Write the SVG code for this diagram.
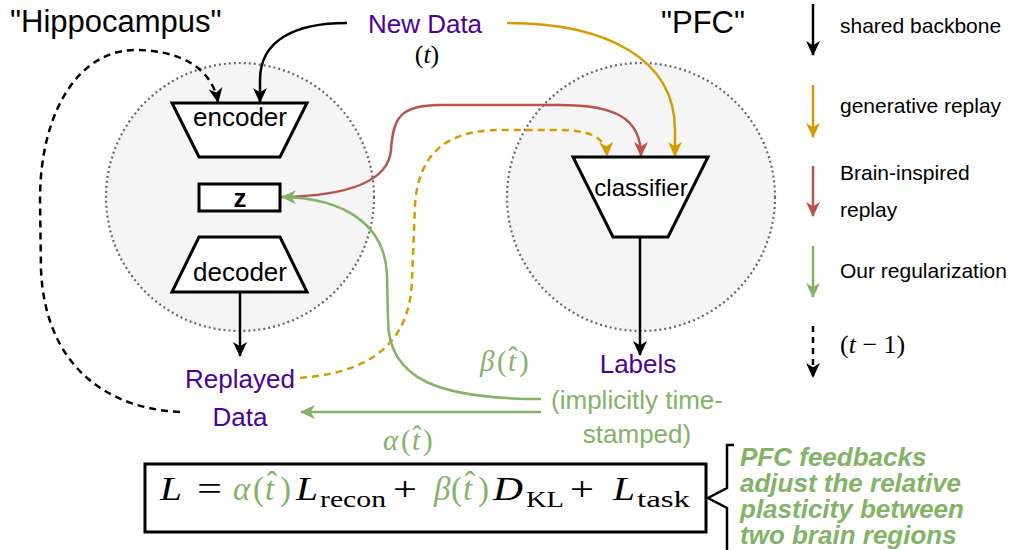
<svg xmlns="http://www.w3.org/2000/svg" width="1011" height="550" viewBox="0 0 1011 550">
<defs>
<style>
.s{font-family:"Liberation Sans",Arial,Helvetica,sans-serif;}
.m{font-family:"Liberation Serif","Times New Roman","DejaVu Serif",serif;}
.i{font-style:italic;}
.pur{fill:#4C0099;}
.grn{fill:#82b366;}
.lbl{font-size:26px;}
.leg{font-size:21px;fill:#000;}
.shape{fill:#fff;stroke:#000;stroke-width:3;}
.region{fill:#f5f5f5;stroke:#666;stroke-width:2.2;stroke-dasharray:2 3;}
.c{fill:none;stroke-width:2.5;}
.k{stroke:#000;}
.o{stroke:#d79b00;}
.r{stroke:#b85450;}
.gr{stroke:#82b366;}
.d{stroke-dasharray:7 5;}
.eq{font-size:33px;}
.sub{font-size:24px;}
</style>
<marker id="ak" viewBox="0 0 14 13" refX="13" refY="6.5" markerWidth="15" markerHeight="14" markerUnits="userSpaceOnUse" orient="auto"><path d="M0,0 L14,6.5 L0,13 L4,6.5 Z" fill="#000"/></marker>
<marker id="ao" viewBox="0 0 14 13" refX="13" refY="6.5" markerWidth="15" markerHeight="14" markerUnits="userSpaceOnUse" orient="auto"><path d="M0,0 L14,6.5 L0,13 L4,6.5 Z" fill="#d79b00"/></marker>
<marker id="ar" viewBox="0 0 14 13" refX="13" refY="6.5" markerWidth="15" markerHeight="14" markerUnits="userSpaceOnUse" orient="auto"><path d="M0,0 L14,6.5 L0,13 L4,6.5 Z" fill="#b85450"/></marker>
<marker id="ag" viewBox="0 0 14 13" refX="13" refY="6.5" markerWidth="15" markerHeight="14" markerUnits="userSpaceOnUse" orient="auto"><path d="M0,0 L14,6.5 L0,13 L4,6.5 Z" fill="#82b366"/></marker>
</defs>
<rect width="1011" height="550" fill="#fff"/>

<g id="hippocampus-region">
<circle class="region" cx="240" cy="197" r="134"/>
<text class="s" x="10" y="32" font-size="31">"Hippocampus"</text>
</g>
<g id="pfc-region">
<circle class="region" cx="641" cy="197" r="134"/>
<text class="s" x="703" y="33" font-size="31" text-anchor="middle">"PFC"</text>
</g>

<g id="connectors">
<path class="c k d" d="M180,412 C100,408 45,360 41,270 L40,200 C40,110 80,50 135,50 C180,50 212,68 218,102" marker-end="url(#ak)"/>
<path class="c k" d="M347,23 C295,23 260,40 260,80 L260,102" marker-end="url(#ak)"/>
<path class="c r" d="M281,197 C340,196 388,185 391,150 C393,118 400,105 440,105 L560,105 C615,105 641,118 641,156" marker-end="url(#ar)"/>
<path class="c o d" d="M300,378 C375,372 410,340 412,280 L415,205 C418,160 440,130 500,130 L560,130 C590,130 606,138 607,156" marker-end="url(#ao)"/>
<path class="c o" d="M507,23 C605,23 675,58 675,130 L675,156" marker-end="url(#ao)"/>
<path class="c gr" d="M541,399 C440,399 388,380 388,320 L387,275 C385,225 345,198 282,197" marker-end="url(#ag)"/>
<path class="c gr" d="M541,412 L301,412" marker-end="url(#ag)"/>
<path class="c k" d="M240,292 L240,356" marker-end="url(#ak)"/>
<path class="c k" d="M640,237 L640,355" marker-end="url(#ak)"/>
</g>

<g id="encoder">
<polygon class="shape" points="172,103 307,103 280,157 199,157"/>
<text class="s lbl" x="240" y="126" text-anchor="middle">encoder</text>
</g>
<g id="z">
<rect class="shape" x="199" y="184" width="81" height="27"/>
<text class="s" x="240" y="207" font-size="26" font-weight="bold" text-anchor="middle">z</text>
</g>
<g id="decoder">
<polygon class="shape" points="199,237 280,237 307,292 172,292"/>
<text class="s lbl" x="240" y="281" text-anchor="middle">decoder</text>
</g>
<g id="classifier">
<polygon class="shape" points="573,157 708,157 668,237 613,237"/>
<text class="s" x="641" y="196" font-size="24" text-anchor="middle">classifier</text>
</g>

<g id="new-data">
<text class="s lbl pur" x="425" y="33" text-anchor="middle">New Data</text>
<text class="m" x="427" y="63" font-size="26" text-anchor="middle">(<tspan class="i">t</tspan>)</text>
</g>
<g id="replayed-data">
<text class="s lbl pur" x="240" y="388" text-anchor="middle">Replayed</text>
<text class="s lbl pur" x="240" y="426" text-anchor="middle">Data</text>
</g>
<g id="labels">
<text class="s lbl pur" x="638" y="373" text-anchor="middle">Labels</text>
<text class="s lbl grn" x="637" y="409" text-anchor="middle">(implicitly time-</text>
<text class="s lbl grn" x="637" y="443" text-anchor="middle">stamped)</text>
</g>

<g id="beta-label" class="m grn" font-size="29">
<text class="i" x="480" y="371">β</text>
<text x="497" y="371">(</text>
<text class="i" x="508" y="371">t</text>
<text x="513" y="367" text-anchor="middle">ˆ</text>
<text x="519" y="371">)</text>
</g>
<g id="alpha-label" class="m grn" font-size="29">
<text class="i" x="383" y="450">α</text>
<text x="401" y="450">(</text>
<text class="i" x="412" y="450">t</text>
<text x="417" y="446" text-anchor="middle">ˆ</text>
<text x="423" y="450">)</text>
</g>

<g id="equation">
<rect class="shape" x="145" y="464" width="561" height="68"/>
<text class="m eq i" x="160" y="500" textLength="22" lengthAdjust="spacingAndGlyphs">L</text>
<text class="m eq" x="197" y="500" textLength="25" lengthAdjust="spacingAndGlyphs">=</text>
<text class="m eq i grn" x="233" y="500">α</text>
<text class="m eq grn" x="253" y="500">(</text>
<text class="m eq i grn" x="265" y="500">t</text>
<text class="m eq grn" x="272" y="495" text-anchor="middle">ˆ</text>
<text class="m eq grn" x="280" y="500">)</text>
<text class="m eq i" x="296" y="500" textLength="22" lengthAdjust="spacingAndGlyphs">L</text>
<text class="m sub" x="320" y="507" textLength="66" lengthAdjust="spacingAndGlyphs">recon</text>
<text class="m eq" x="393" y="500" textLength="24" lengthAdjust="spacingAndGlyphs">+</text>
<text class="m eq i grn" x="434" y="500">β</text>
<text class="m eq grn" x="451" y="500">(</text>
<text class="m eq i grn" x="463" y="500">t</text>
<text class="m eq grn" x="470" y="495" text-anchor="middle">ˆ</text>
<text class="m eq grn" x="478" y="500">)</text>
<text class="m eq i" x="493" y="500" textLength="30" lengthAdjust="spacingAndGlyphs">D</text>
<text class="m sub" x="526" y="507" textLength="38" lengthAdjust="spacingAndGlyphs">KL</text>
<text class="m eq" x="570" y="500" textLength="24" lengthAdjust="spacingAndGlyphs">+</text>
<text class="m eq i" x="613" y="500" textLength="22" lengthAdjust="spacingAndGlyphs">L</text>
<text class="m sub" x="637" y="507" textLength="53" lengthAdjust="spacingAndGlyphs">task</text>
</g>

<g id="brace">
<path d="M734,445 L727,445 L727,488 L708,498 L727,508 L727,552" fill="none" stroke="#000" stroke-width="2.5"/>
<text class="s grn" font-size="26" font-weight="bold" font-style="italic">
<tspan x="740" y="466">PFC feedbacks</tspan>
<tspan x="740" y="492">adjust the relative</tspan>
<tspan x="740" y="518">plasticity between</tspan>
<tspan x="740" y="544">two brain regions</tspan>
</text>
</g>

<g id="legend">
<path class="c k" d="M813,4 L813,55" marker-end="url(#ak)"/>
<text class="s leg" x="840" y="33">shared backbone</text>
<path class="c o" d="M813,85 L813,137" marker-end="url(#ao)"/>
<text class="s leg" x="840" y="113">generative replay</text>
<path class="c r" d="M813,166 L813,216" marker-end="url(#ar)"/>
<text class="s leg" x="840" y="180">Brain-inspired</text>
<text class="s leg" x="840" y="217">replay</text>
<path class="c gr" d="M813,246 L813,297" marker-end="url(#ag)"/>
<text class="s leg" x="840" y="278">Our regularization</text>
<path class="c k" d="M813,326 L813,377" stroke-dasharray="6 5" marker-end="url(#ak)"/>
<text class="m" x="840" y="353" font-size="26">(<tspan class="i">t</tspan> − 1)</text>
</g>
</svg>
